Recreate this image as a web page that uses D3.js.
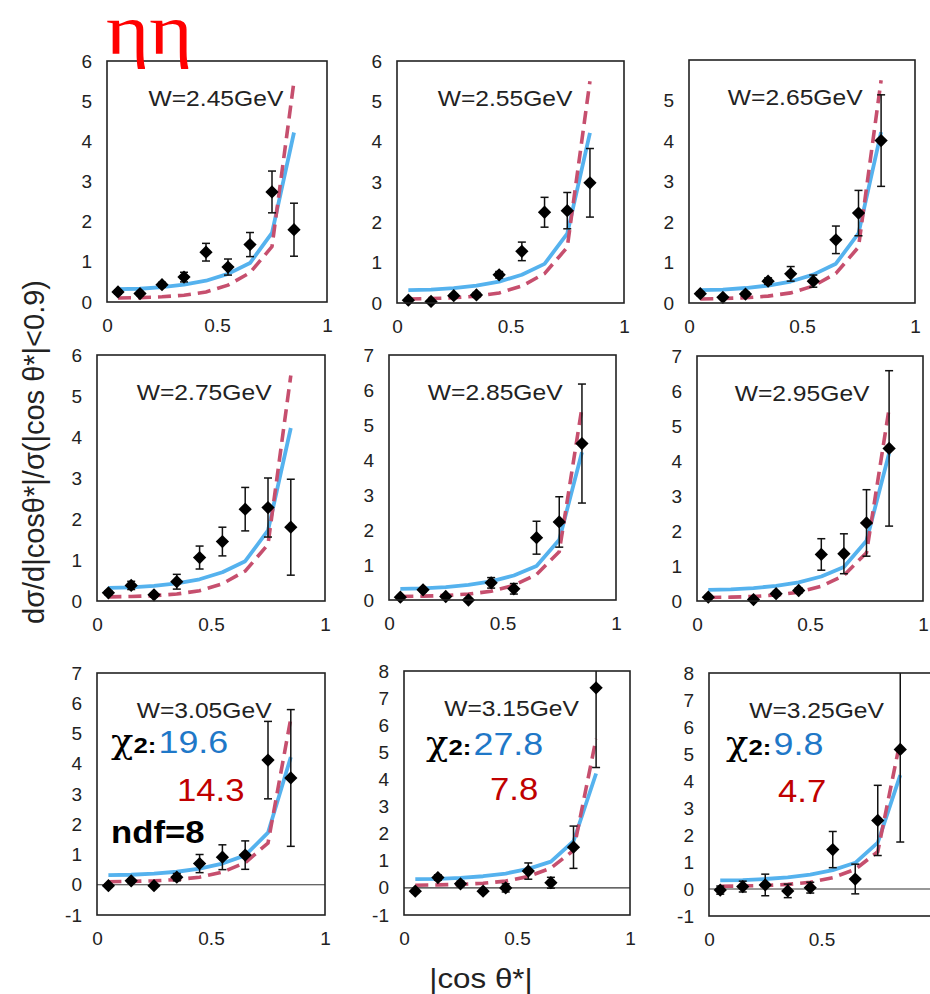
<!DOCTYPE html>
<html><head><meta charset="utf-8">
<script src="https://cdn.jsdelivr.net/npm/d3@7"></script>
<style>body{margin:0;background:#fff}svg{display:block}</style>
</head><body><svg id="c" width="930" height="994"></svg>
<script>
// ---------------- data ----------------
const cosBins = [0.05, 0.15, 0.25, 0.35, 0.45, 0.55, 0.65, 0.75, 0.85];
const wLabels = ["W=2.45GeV","W=2.55GeV","W=2.65GeV","W=2.75GeV","W=2.85GeV","W=2.95GeV","W=3.05GeV","W=3.15GeV","W=3.25GeV"];
const xTickSets = [[0,0.5,1],[0,0.5,1],[0,0.5,1],[0,0.5,1],[0,0.5,1],[0,0.5,1],[0,0.5,1],[0,0.5,1],[0,0.5]];
const yDomains = [[0,6],[0,6],[0,6],[0,6],[0,7],[0,7],[-1,7],[-1,8],[-1,8]];
const yTickSets = [
  [0,1,2,3,4,5,6],[0,1,2,3,4,5,6],[0,1,2,3,4,5],
  [0,1,2,3,4,5,6],[0,1,2,3,4,5,6,7],[0,1,2,3,4,5,6,7],
  [-1,0,1,2,3,4,5,6,7],[-1,0,1,2,3,4,5,6,7,8],[-1,0,1,2,3,4,5,6,7,8]
];
// model curves (normalized, same shape in each W bin)
const theoryBlue = [0.32, 0.33, 0.37, 0.43, 0.53, 0.70, 0.97, 1.72, 4.22];
const theoryRed  = [0.10, 0.11, 0.13, 0.17, 0.25, 0.42, 0.73, 1.38, 5.50];
// measured points and errors
const val245 = [0.25, 0.21, 0.43, 0.62, 1.24, 0.87, 1.43, 2.74, 1.80];
const err245 = [0.05, 0.05, 0.06, 0.12, 0.22, 0.20, 0.30, 0.52, 0.66];
const val255 = [0.07, 0.04, 0.18, 0.20, 0.70, 1.28, 2.25, 2.29, 2.98];
const err255 = [0.04, 0.04, 0.05, 0.06, 0.08, 0.23, 0.37, 0.45, 0.85];
const val265 = [0.23, 0.14, 0.22, 0.54, 0.72, 0.54, 1.56, 2.22, 4.01];
const err265 = [0.05, 0.04, 0.05, 0.08, 0.18, 0.15, 0.34, 0.56, 1.13];
const val275 = [0.20, 0.38, 0.15, 0.47, 1.06, 1.45, 2.24, 2.28, 1.80];
const err275 = [0.05, 0.10, 0.05, 0.18, 0.28, 0.35, 0.53, 0.72, 1.17];
const val285 = [0.08, 0.29, 0.10, 0.00, 0.49, 0.32, 1.78, 2.23, 4.47];
const err285 = [0.04, 0.05, 0.04, 0.04, 0.15, 0.15, 0.47, 0.72, 1.70];
const val295 = [0.11, null, 0.04, 0.21, 0.30, 1.33, 1.35, 2.23, 4.36];
const err295 = [0.05, null, 0.05, 0.06, 0.07, 0.45, 0.57, 0.95, 2.22];
const val305 = [-0.03, 0.13, -0.03, 0.25, 0.70, 0.91, 0.98, 4.12, 3.53];
const err305 = [0.05, 0.06, 0.05, 0.12, 0.30, 0.41, 0.47, 1.28, 2.26];
const val315 = [-0.12, 0.38, 0.15, -0.12, 0.00, 0.62, 0.19, 1.50, 7.38];
const err315 = [0.06, 0.10, 0.10, 0.06, 0.15, 0.30, 0.20, 0.78, 2.94];
const val325 = [-0.04, 0.09, 0.15, -0.07, 0.05, 1.46, 0.37, 2.54, 5.17];
const err325 = [0.15, 0.20, 0.40, 0.25, 0.20, 0.67, 0.55, 1.30, 3.43];
const panelValues = [val245, val255, val265, val275, val285, val295, val305, val315, val325];
const panelErrors = [err245, err255, err265, err275, err285, err295, err305, err315, err325];
const chi2Blue = ["19.6", "27.8", "9.8"];
const chi2Red  = ["14.3", "7.8", "4.7"];
const ndfText = "ndf=8";
const titleText = "ηη";
const yTitle = "dσ/d|cosθ*|/σ(|cos θ*|<0.9)";
const xTitle = "|cos θ*|";

// ---------------- layout ----------------
const frames = [
  {l:107, r:327, t:61,  b:302},
  {l:397, r:624, t:61,  b:303},
  {l:689, r:915, t:60,  b:303},
  {l:97,  r:325, t:355, b:601},
  {l:389, r:616, t:355, b:600},
  {l:697, r:923, t:356, b:601},
  {l:97,  r:325, t:673, b:915},
  {l:404, r:630, t:671, b:915},
  {l:709, r:934, t:673, b:916}
];
const titleFrac = [0.495,0.476,0.47,0.47,0.468,0.465,0.47,0.476,0.478];
const chiPos = [
  {x:111, yb:753, rx:177, ryb:801},
  {x:426, yb:755, rx:490, ryb:800},
  {x:726, yb:755, rx:778, ryb:802}
];
const FONT = "'Liberation Sans', Arial, Helvetica, sans-serif";
const SERIF = "'Liberation Serif', 'DejaVu Serif', serif";
const CHI_FONT = "'DejaVu Serif', 'Liberation Serif', serif";
const SX = 1.12;
const BLUE = "#55b2ee", RED = "#c64f6e";

const svg = d3.select("#c");
const defs = svg.append("defs");

frames.forEach((f, i) => {
  const x = d3.scaleLinear().domain([0, 1]).range([f.l, f.r]);
  const y = d3.scaleLinear().domain(yDomains[i]).range([f.b, f.t]);
  const g = svg.append("g");
  const topY = y(yDomains[i][1]);

  defs.append("clipPath").attr("id", "clip" + i)
    .append("rect").attr("x", f.l).attr("y", topY).attr("width", f.r - f.l).attr("height", f.b - topY);

  const ya = g.append("g").attr("transform", `translate(${f.l},0)`)
    .call(d3.axisLeft(y).tickValues(yTickSets[i]).tickSize(0).tickPadding(15).tickFormat(d => String(d)));
  ya.select(".domain").remove();
  ya.selectAll("text").attr("font-family", FONT).attr("font-size", 19).attr("fill", "#222");

  const xa = g.append("g").attr("transform", `translate(0,${f.b})`)
    .call(d3.axisBottom(x).tickValues(xTickSets[i]).tickSize(0).tickPadding(17).tickFormat(d => String(d)));
  xa.select(".domain").remove();
  xa.selectAll("text").attr("font-family", FONT).attr("font-size", 19).attr("fill", "#222");

  const plot = g.append("g").attr("clip-path", `url(#clip${i})`);

  if (yDomains[i][0] < 0) {
    plot.append("line").attr("x1", f.l).attr("x2", f.r).attr("y1", y(0)).attr("y2", y(0))
      .attr("stroke", "#333").attr("stroke-width", 1.2);
  }

  const line = d3.line().x((d, k) => x(cosBins[k])).y(d => y(d));
  plot.append("path").attr("d", line(theoryBlue)).attr("fill", "none")
    .attr("stroke", BLUE).attr("stroke-width", 3.8).attr("stroke-linejoin", "round");
  plot.append("path").attr("d", line(theoryRed)).attr("fill", "none")
    .attr("stroke", RED).attr("stroke-width", 3.6).attr("stroke-dasharray", "13,7");

  const pts = cosBins.map((c, k) => ({c, v: panelValues[i][k], e: panelErrors[i][k]})).filter(d => d.v !== null);
  const eb = plot.append("g").attr("stroke", "#111").attr("stroke-width", 1.5);
  pts.forEach(d => {
    const cx = x(d.c), y1 = y(d.v + d.e), y2 = y(d.v - d.e);
    eb.append("line").attr("x1", cx).attr("x2", cx).attr("y1", y1).attr("y2", y2);
    eb.append("line").attr("x1", cx - 4).attr("x2", cx + 4).attr("y1", y1).attr("y2", y1);
    eb.append("line").attr("x1", cx - 4).attr("x2", cx + 4).attr("y1", y2).attr("y2", y2);
  });
  const sym = d3.symbol().type(d3.symbolSquare).size(88);
  g.append("g").selectAll("path").data(pts).join("path")
    .attr("d", sym).attr("fill", "#000")
    .attr("transform", d => `translate(${x(d.c)},${y(d.v)}) rotate(45)`);

  g.append("rect").attr("x", f.l).attr("y", topY).attr("width", f.r - f.l).attr("height", f.b - topY)
    .attr("fill", "none").attr("stroke", "#222").attr("stroke-width", 1.6);

  const tx = f.l + (f.r - f.l) * titleFrac[i];
  g.append("text").attr("transform", `translate(${tx},${topY + 45}) scale(${SX},1)`)
    .attr("text-anchor", "middle").attr("font-family", FONT).attr("font-size", 22).attr("fill", "#222")
    .text(wLabels[i]);
});

// chi2 annotations in the bottom row
chiPos.forEach((p, k) => {
  const t = svg.append("text").attr("transform", `translate(${p.x},${p.yb}) scale(${SX},1)`);
  t.append("tspan").attr("font-family", CHI_FONT).attr("font-size", 33).attr("fill", "#000").text("χ");
  t.append("tspan").attr("font-family", FONT).attr("font-weight", "bold").attr("font-size", 23).attr("fill", "#000").text("2:");
  t.append("tspan").attr("dx", 2).attr("font-family", FONT).attr("font-size", 32).attr("fill", "#1f78c8").text(chi2Blue[k]);
  svg.append("text").attr("transform", `translate(${p.rx},${p.ryb}) scale(${SX},1)`)
    .attr("font-family", FONT).attr("font-size", 31).attr("fill", "#c00000").text(chi2Red[k]);
});
svg.append("text").attr("transform", `translate(111,843) scale(${SX},1)`)
  .attr("font-family", FONT).attr("font-weight", "bold").attr("font-size", 31).attr("fill", "#000").text(ndfText);

// titles
svg.append("text").attr("transform", "translate(106,54) scale(1.15,1)").attr("font-family", SERIF).attr("font-size", 72)
  .attr("fill", "#ff0000").text(titleText);
svg.append("text").attr("transform", "translate(44,452) rotate(-90)").attr("text-anchor", "middle")
  .attr("font-family", FONT).attr("font-size", 29).attr("fill", "#222").text(yTitle);
svg.append("text").attr("transform", `translate(481,988) scale(${SX},1)`).attr("text-anchor", "middle")
  .attr("font-family", FONT).attr("font-size", 28).attr("fill", "#222").text(xTitle);
</script></body></html>
